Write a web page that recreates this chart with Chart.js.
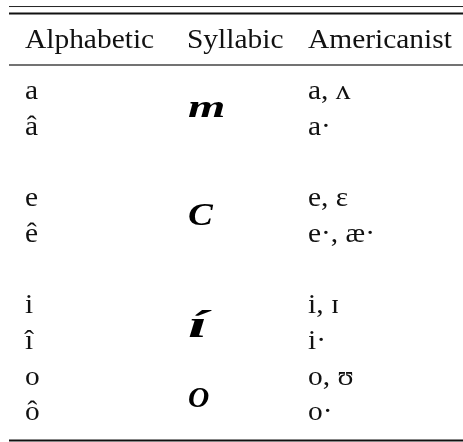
<!DOCTYPE html>
<html>
<head>
<meta charset="utf-8">
<script src="https://cdn.jsdelivr.net/npm/chart.js@4"></script>
<style>
  html, body { margin: 0; padding: 0; background: #fff; }
  #wrap { width: 463px; height: 442px; }
</style>
</head>
<body>
<div id="wrap"><canvas id="tbl"></canvas></div>
<script>
// table content
const headers = ['Alphabetic', 'Syllabic', 'Americanist'];
const alphabetic = ['a', 'â', 'e', 'ê', 'i', 'î', 'o', 'ô'];
const americanist = ['a, ʌ', 'a·', 'e, ɛ', 'e·, æ·', 'i, ɪ', 'i·', 'o, ʊ', 'o·'];
const rowPos = [0, 1, 3, 4, 6, 7, 8, 9];
const syllabic = ['m', 'C', 'í', 'O'];
const syllabicPos = [0.5, 3.52, 6.67, 8.63];
const headerPos = -1.42;
const columnX = [25, 187, 308];
const rules = [-2.59, -2.395, -0.952, 9.566];

// styling, kept apart from the data
const ruleWidths = [1, 2.2, 1.3, 2.2];
const ruleColors = ['#222', '#111', '#444', '#111'];
const glyphStretch = [[1.55, 1], [1.2, 1.05], [2.2, 1.2], [0.95, 0.98]];
const textFont = '27px "Liberation Serif", "Times New Roman", serif';
const textStretch = 1.09;
const glyphFont = 'bold italic 31px "Liberation Serif", "Times New Roman", serif';

const ruleSets = rules.map((y, i) => ({
  data: [{ x: 9, y: y }, { x: 463, y: y }],
  showLine: true,
  borderColor: ruleColors[i],
  borderWidth: ruleWidths[i],
  pointRadius: 0
}));

function drawText(ctx, str, x, y, sx, sy) {
  ctx.save();
  ctx.translate(x, y);
  ctx.scale(sx, sy);
  ctx.fillText(str, 0, 0);
  ctx.restore();
}

const tableText = {
  id: 'tableText',
  afterDatasetsDraw(chart) {
    const ctx = chart.ctx;
    const xs = chart.scales.x;
    const ys = chart.scales.y;
    ctx.save();
    ctx.fillStyle = '#111';
    ctx.textBaseline = 'alphabetic';
    ctx.textAlign = 'left';
    ctx.font = textFont;

    headers.forEach((h, i) => {
      drawText(ctx, h, xs.getPixelForValue(columnX[i]), ys.getPixelForValue(headerPos), textStretch, 1);
    });
    alphabetic.forEach((t, i) => {
      drawText(ctx, t, xs.getPixelForValue(columnX[0]), ys.getPixelForValue(rowPos[i]), textStretch, 1);
    });
    americanist.forEach((t, i) => {
      drawText(ctx, t, xs.getPixelForValue(columnX[2]), ys.getPixelForValue(rowPos[i]), textStretch, 1);
    });

    ctx.font = glyphFont;
    ctx.fillStyle = '#000';
    syllabic.forEach((g, i) => {
      drawText(ctx, g, xs.getPixelForValue(columnX[1]) + 1, ys.getPixelForValue(syllabicPos[i]),
        glyphStretch[i][0], glyphStretch[i][1]);
    });
    ctx.restore();
  }
};

new Chart(document.getElementById('tbl'), {
  type: 'scatter',
  data: { datasets: ruleSets },
  options: {
    responsive: true,
    maintainAspectRatio: false,
    animation: false,
    layout: { padding: 0 },
    plugins: { legend: { display: false }, tooltip: { enabled: false } },
    scales: {
      x: { type: 'linear', min: 0, max: 463, display: false },
      y: { type: 'linear', min: -2.773, max: 9.608, reverse: true, display: false }
    }
  },
  plugins: [tableText]
});
</script>
</body>
</html>
